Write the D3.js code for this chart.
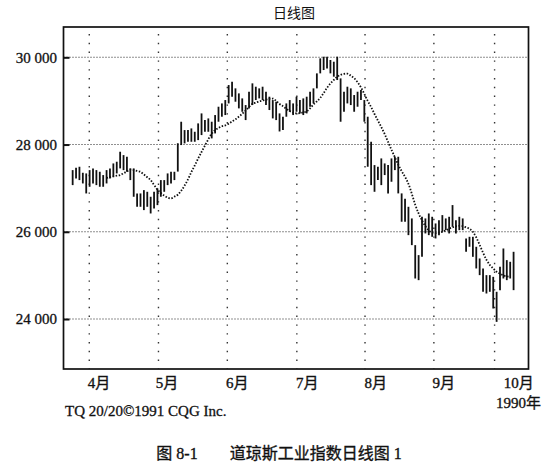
<!DOCTYPE html>
<html><head><meta charset="utf-8">
<script src="https://cdn.jsdelivr.net/npm/d3@7"></script>
<style>
html,body{margin:0;padding:0;background:#fff;}
svg{display:block;}
</style></head>
<body>
<script>
// ---- data ----
const highs = [
27414,27468,27491,27353,27338,27414,27453,27414,27376,27300,
27414,27453,27567,27606,27835,27758,27720,27453,27453,26879,
26879,26955,26917,26803,26917,26994,27185,27185,27338,27376,
27376,28030,
28523,28332,28332,28370,28293,28485,28714,28561,28599,28523,
28676,28867,28943,29020,29364,29441,29288,29173,29058,28905,
29211,29403,29326,29288,29326,29211,29097,29020,28982,28714,
28638,28943,29020,28943,
29097,29020,29058,29097,29211,29288,29632,29976,30014,30014,
29938,29899,30014,29517,29211,29326,29288,29135,29211,29249,
29020,28638,28064,27529,27491,27682,27567,27529,27682,27720,
27720,
26880,26760,26573,26306,25694,25465,26344,
26306,26420,26344,26191,26267,26382,26306,26344,26612,26267,26344,26306,
25847,25885,25885,25656,25388,25159,25006,25006,24967,24624,
25197,25617,25350,25312,25541
];
const lows = [
27070,27223,27185,27108,26879,27032,27108,27070,27032,27032,
27108,27223,27261,27338,27453,27414,27376,27185,26803,26573,
26573,26497,26573,26420,26535,26611,26803,26917,27070,27108,
27185,27380,
27988,28026,28064,28064,28064,28102,28217,28293,28293,28141,
28255,28523,28638,28676,28943,29097,28982,28829,28752,28561,
28829,28905,29020,29058,29020,28905,28791,28599,28561,28300,
28332,28638,28752,28676,
28752,28714,28676,28714,28867,28943,29288,29632,29708,29746,
29632,29556,29479,28523,28752,28943,28905,28752,28867,29020,
28523,27491,27070,26917,27185,27070,27300,26879,27147,27414,
26880,
26230,26230,25923,25694,24929,24891,25426,
25962,25923,25885,25847,25923,26000,26038,25962,26114,25962,26038,26038,
25541,25656,25426,25159,25006,24624,24585,24624,24241,23935,
24662,24929,24891,24929,24662
];
// dotted moving-average line (null where not drawn)
const movingAvg = [
null,null,null,null,null,null,null,null,null,null,
27235,27255,27270,27285,27300,27340,27385,27425,27415,27395,
27375,27315,27250,27185,27075,26965,26890,26830,26785,26765,
26805,26850,26940,27060,27200,27370,27520,27680,27830,27975,
28120,28250,28330,28380,28420,28440,28480,28530,28580,28640,
28705,28780,28860,28935,28960,28990,29010,29030,29050,29055,
29000,28930,28880,28820,28770,28730,28715,28720,28740,28760,
28830,28920,28990,29070,29180,29300,29400,29480,29555,29600,
29620,29625,29580,29520,29430,29310,29160,29000,28860,28700,
28550,28400,28240,28060,27880,27710,27540,27390,27260,27100,
26870,26620,26420,26260,26130,26030,25980,25970,25980,26000,
26030,26070,26100,26125,26135,26130,26100,26070,26000,25870,
25700,25520,25360,25240,25160,25085,25040,25000,24980,24970,
null
];
const yTicks = [24000, 26000, 28000, 30000];
const yTickLabels = ["24 000", "26 000", "28 000", "30 000"];
const monthLabels = ["4月","5月","6月","7月","8月","9月","10月"];
const monthLabelPos = [7.6, 27.7, 48.4, 69.0, 89.2, 109.3, 131.4]; // in bar-index units
const gridPos = [4.9, 25.3, 45.6, 66.1, 86.2, 106.5, 124.4];      // in bar-index units

const title = "日线图";
const yearLabel = "1990年";
const credit = "TQ 20/20©1991 CQG Inc.";
const caption = "图 8-1\u2003\u2003道琼斯工业指数日线图 1";

// ---- layout ----
const W = 554, H = 468;
const L = 63.5, R = 528.5, T = 27, B = 369;

const svg = d3.select("body").append("svg")
  .attr("width", W).attr("height", H)
  .style("background", "#fff");

const x = d3.scaleLinear().domain([-2.7, 134.4]).range([L, R]);
const y = d3.scaleLinear().domain([22854, 30695]).range([B, T]);

const serif = "'Liberation Serif','Times New Roman',serif";
const cjk = "'Liberation Serif','Noto Sans CJK SC',serif";

function heavy(sel, w) {
  sel.attr("stroke", "#111").attr("stroke-width", w).attr("paint-order", "stroke");
}

// horizontal dotted gridlines
svg.append("g").selectAll("line").data(yTicks).join("line")
  .attr("x1", L).attr("x2", R)
  .attr("y1", d => y(d)).attr("y2", d => y(d))
  .attr("stroke", "#222").attr("stroke-width", 1.1)
  .attr("stroke-dasharray", "1,2");

// vertical dotted gridlines
svg.append("g").selectAll("line").data(gridPos).join("line")
  .attr("x1", d => x(d)).attr("x2", d => x(d))
  .attr("y1", T + 7).attr("y2", B)
  .attr("stroke", "#333").attr("stroke-width", 1.4)
  .attr("stroke-dasharray", "1.4,7.4");

// bars (high-low)
const idx = d3.range(highs.length);
svg.append("g").selectAll("line").data(idx).join("line")
  .attr("x1", i => x(i)).attr("x2", i => x(i))
  .attr("y1", i => y(highs[i])).attr("y2", i => y(lows[i]))
  .attr("stroke", "#111").attr("stroke-width", 1.8);

// moving average (dotted)
const line = d3.line()
  .defined(d => d != null)
  .x((d, i) => x(i)).y(d => y(d))
  .curve(d3.curveMonotoneX);
svg.append("path").datum(movingAvg)
  .attr("d", line)
  .attr("fill", "none").attr("stroke", "#111")
  .attr("stroke-width", 1.8).attr("stroke-dasharray", "1.5,1.6");

// frame
svg.append("rect").attr("x", L).attr("y", T)
  .attr("width", R - L).attr("height", B - T)
  .attr("fill", "none").attr("stroke", "#111").attr("stroke-width", 1.7);

// y axis ticks (inward) and labels
const yAxis = d3.axisLeft(y).tickValues(yTicks)
  .tickFormat((d, i) => yTickLabels[i]).tickSizeInner(-6).tickSizeOuter(0).tickPadding(12);
const ya = svg.append("g").attr("transform", `translate(${L},0)`).call(yAxis);
ya.select(".domain").remove();
ya.selectAll(".tick line").attr("stroke", "#111").attr("stroke-width", 2);
ya.selectAll(".tick text").attr("font-family", serif).attr("font-size", 15)
  .attr("fill", "#111").attr("x", -6.5).call(heavy, 0.3);

// month labels
const xAxis = d3.axisBottom(x).tickValues(monthLabelPos)
  .tickFormat((d, i) => monthLabels[i]).tickSize(0).tickPadding(0);
const xa = svg.append("g").attr("transform", `translate(0,${B})`).call(xAxis);
xa.select(".domain").remove();
xa.selectAll(".tick text").attr("font-family", cjk).attr("font-size", 15)
  .attr("fill", "#111").attr("dy", 0).attr("y", 19).call(heavy, 0.35);

// texts
svg.append("text").attr("x", 294).attr("y", 18).attr("text-anchor", "middle")
  .attr("font-family", "'Noto Sans CJK SC',sans-serif").attr("font-size", 14)
  .attr("fill", "#111").text(title);
svg.append("text").attr("x", 541).attr("y", 408).attr("text-anchor", "end")
  .attr("font-family", cjk).attr("font-size", 15).attr("fill", "#111").text(yearLabel)
  .call(heavy, 0.3);
svg.append("text").attr("x", 65).attr("y", 416).attr("text-anchor", "start")
  .attr("font-family", serif).attr("font-size", 15).attr("fill", "#111").text(credit)
  .call(heavy, 0.3);
svg.append("text").attr("x", 279).attr("y", 459).attr("text-anchor", "middle")
  .attr("font-family", cjk).attr("font-size", 16).attr("fill", "#111").text(caption)
  .call(heavy, 0.35);
</script>
</body></html>
